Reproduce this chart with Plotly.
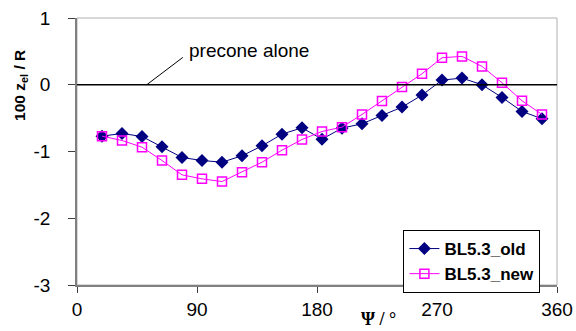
import plotly.graph_objects as go

psi = [18.75, 33.75, 48.75, 63.75, 78.75, 93.75, 108.75, 123.75, 138.75, 153.75, 168.75,
       183.75, 198.75, 213.75, 228.75, 243.75, 258.75, 273.75, 288.75, 303.75, 318.75,
       333.75, 348.75]
bl_old = [-0.77, -0.73, -0.775, -0.93, -1.09, -1.135, -1.16, -1.065, -0.915, -0.74, -0.645,
          -0.815, -0.65, -0.585, -0.46, -0.335, -0.155, 0.07, 0.10, 0.0, -0.19, -0.40, -0.51]
bl_new = [-0.77, -0.835, -0.935, -1.135, -1.35, -1.41, -1.45, -1.31, -1.16, -0.98, -0.82,
          -0.70, -0.635, -0.445, -0.245, -0.035, 0.165, 0.405, 0.425, 0.275, 0.03, -0.24, -0.445]
x_ticks = [0, 90, 180, 270, 360]
y_ticks = [-3, -2, -1, 0, 1]

FONT = "Liberation Sans, Arial, sans-serif"

fig = go.Figure()
fig.add_trace(go.Scatter(
    x=psi, y=bl_old, mode="lines+markers", name="BL5.3_old",
    line=dict(color="#000080", width=1),
    marker=dict(symbol="diamond", size=10, color="#000080"),
))
fig.add_trace(go.Scatter(
    x=psi, y=bl_new, mode="lines+markers", name="BL5.3_new",
    line=dict(color="#FF00FF", width=1),
    marker=dict(symbol="square-open", size=9, color="#FF00FF", line=dict(width=1.5)),
))

# plot-area frame
fig.add_shape(type="rect", xref="paper", yref="paper", x0=0, y0=0, x1=1, y1=1,
              line=dict(color="#b0b0b0", width=1), layer="below")
# precone alone line
fig.add_shape(type="line", xref="x", yref="y", x0=0, x1=360, y0=0, y1=0,
              line=dict(color="black", width=1.5))
fig.add_shape(type="line", xref="x", yref="y", x0=52.3, y0=0.0, x1=79.4, y1=0.41,
              line=dict(color="black", width=1))
fig.add_annotation(x=82.5, y=0.52, xref="x", yref="y", text="precone alone",
                   showarrow=False, xanchor="left", yanchor="middle",
                   font=dict(family=FONT, size=19, color="black"))
# axis titles
fig.add_annotation(x=-0.119, y=0.749, xref="paper", yref="paper",
                   text="<b>100 z<sub>el</sub> / R</b>", textangle=-90, showarrow=False,
                   xanchor="center", yanchor="middle",
                   font=dict(family=FONT, size=15.5, color="black"))
fig.add_annotation(x=0.629, y=-0.128, xref="paper", yref="paper",
                   text="<b>Ψ / °</b>", showarrow=False,
                   xanchor="center", yanchor="middle",
                   font=dict(family="Liberation Serif, serif", size=18, color="black"))

fig.update_layout(
    width=576, height=331,
    margin=dict(l=77, r=19, t=18, b=46, autoexpand=False),
    paper_bgcolor="white", plot_bgcolor="white",
    font=dict(family=FONT, size=19, color="black"),
    showlegend=True,
    legend=dict(x=0.68, y=0.206, xanchor="left", yanchor="top",
                bordercolor="black", borderwidth=1, bgcolor="white",
                font=dict(family=FONT, size=17, color="black", weight="bold"),
                tracegroupgap=0, itemwidth=30),
)
fig.update_xaxes(range=[0, 360], tickvals=x_ticks, ticktext=[str(v) for v in x_ticks],
                 showgrid=False, zeroline=False, showline=True, linecolor="#808080",
                 linewidth=1.5, ticks="outside", ticklen=6, tickcolor="#404040",
                 ticklabelstandoff=0, automargin=False)
fig.update_yaxes(range=[-3, 1], tickvals=y_ticks, ticktext=[str(v) for v in y_ticks],
                 showgrid=False, zeroline=False, showline=True, linecolor="#808080",
                 linewidth=1.5, ticks="outside", ticklen=7, tickcolor="#404040",
                 ticklabelstandoff=14, automargin=False)

fig.write_html("out.html")
